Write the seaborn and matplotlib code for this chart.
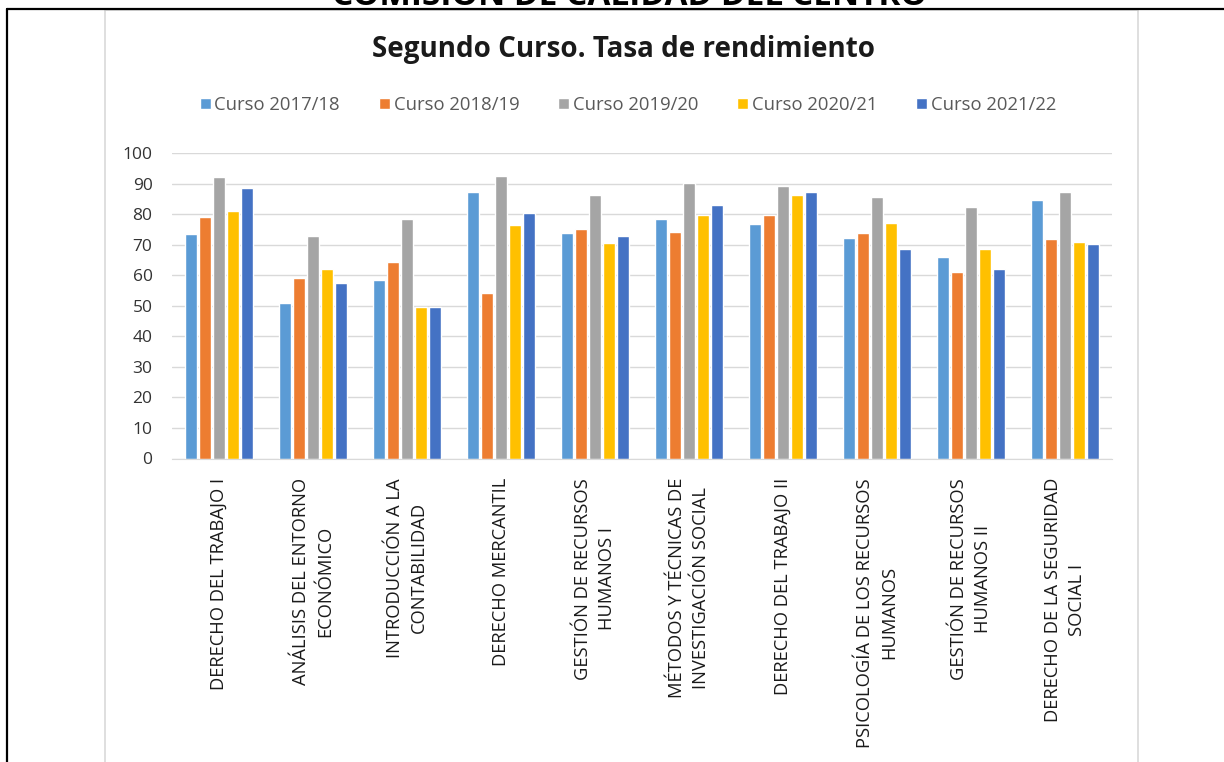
import pandas as pd
import matplotlib
matplotlib.use('Agg')
import matplotlib.pyplot as plt
import seaborn as sns
from matplotlib.lines import Line2D
from matplotlib.patches import Rectangle

# datos
asignaturas = [
    'DERECHO DEL TRABAJO I',
    'ANÁLISIS DEL ENTORNO\nECONÓMICO',
    'INTRODUCCIÓN A LA\nCONTABILIDAD',
    'DERECHO MERCANTIL',
    'GESTIÓN DE RECURSOS\nHUMANOS I',
    'MÉTODOS Y TÉCNICAS DE\nINVESTIGACIÓN SOCIAL',
    'DERECHO DEL TRABAJO II',
    'PSICOLOGÍA DE LOS RECURSOS\nHUMANOS',
    'GESTIÓN DE RECURSOS\nHUMANOS II',
    'DERECHO DE LA SEGURIDAD\nSOCIAL I',
]
cursos = ['Curso 2017/18', 'Curso 2018/19', 'Curso 2019/20', 'Curso 2020/21', 'Curso 2021/22']

curso_1718 = [73.6, 50.9, 58.5, 87.3, 73.7, 78.4, 76.9, 72.1, 66.1, 84.5]
curso_1819 = [79.2, 59.0, 64.2, 54.3, 75.1, 74.1, 79.8, 73.7, 60.9, 71.8]
curso_1920 = [92.0, 72.7, 78.4, 92.6, 86.4, 90.1, 89.2, 85.5, 82.2, 87.3]
curso_2021 = [81.1, 61.9, 49.7, 76.4, 70.7, 79.8, 86.4, 77.0, 68.5, 70.8]
curso_2122 = [88.7, 57.6, 49.6, 80.2, 72.7, 83.1, 87.3, 68.5, 61.9, 70.3]

colores = ['#5B9BD5', '#ED7D31', '#A5A5A5', '#FFC000', '#4472C4']

series = [curso_1718, curso_1819, curso_1920, curso_2021, curso_2122]
filas = []
for curso, valores in zip(cursos, series):
    for asig, v in zip(asignaturas, valores):
        filas.append({'asignatura': asig, 'curso': curso, 'valor': v})
df = pd.DataFrame(filas)

sns.set_style('white')
plt.rcParams['font.family'] = ['Open Sans', 'DejaVu Sans']

fig = plt.figure(figsize=(12.24, 7.62), dpi=100)
ax = fig.add_axes([172 / 1224, 1 - 458.5 / 762, 940 / 1224, 305.5 / 762])

sns.barplot(data=df, x='asignatura', y='valor', hue='curso', palette=colores,
            order=asignaturas, hue_order=cursos, width=0.75, gap=0.14,
            saturation=1, errorbar=None, ax=ax)

ax.set_ylim(0, 100)
ax.set_yticks(range(0, 101, 10))
ax.yaxis.grid(True, color='#D9D9D9', lw=1)
ax.set_axisbelow(True)
for s in ['top', 'left', 'right']:
    ax.spines[s].set_visible(False)
ax.spines['bottom'].set_color('#D9D9D9')
ax.set_xlabel('')
ax.set_ylabel('')
ax.tick_params(axis='y', length=0, pad=14, labelsize=12.5, labelcolor='#333333')
ax.tick_params(axis='x', length=0, pad=14)
ax.set_xticks(range(len(asignaturas)))
ax.set_xticklabels(asignaturas, rotation=90, ha='center', va='top',
                   multialignment='center', fontsize=13.2, color='#1a1a1a',
                   linespacing=1.45)

handles, labels = ax.get_legend_handles_labels()
ax.legend(handles, labels, ncol=5, loc='center', bbox_to_anchor=(0.513, 1 - 105 / 762),
          bbox_transform=fig.transFigure, frameon=False, handlelength=0.6,
          handleheight=0.6, handletextpad=0.2, columnspacing=2.1,
          prop={'size': 13.3}, labelcolor='#595959')

fig.text(0.509, 1 - 49 / 762, 'Segundo Curso. Tasa de rendimiento', ha='center', va='center',
         fontsize=20, fontweight='bold', color='#1a1a1a')

# cabecera del documento, cortada por arriba
fig.text(0.514, 1 - 5 / 762, 'COMISIÓN DE CALIDAD DEL CENTRO', ha='center', va='baseline',
         fontsize=24, fontweight='bold', color='black')

# marco del grafico y bordes de la tabla
fig.add_artist(Rectangle((105 / 1224, -0.01), 1033 / 1224, 1 - 10 / 762 + 0.01,
                         transform=fig.transFigure, fill=False, edgecolor='#D9D9D9', lw=1.2))
fig.add_artist(Line2D([7 / 1224, 1], [1 - 9 / 762, 1 - 9 / 762], transform=fig.transFigure,
                      color='black', lw=1.6))
fig.add_artist(Line2D([7 / 1224, 7 / 1224], [0, 1 - 9 / 762], transform=fig.transFigure,
                      color='black', lw=1.6))

fig.savefig('out.png', dpi=100, facecolor='white')
plt.close()
